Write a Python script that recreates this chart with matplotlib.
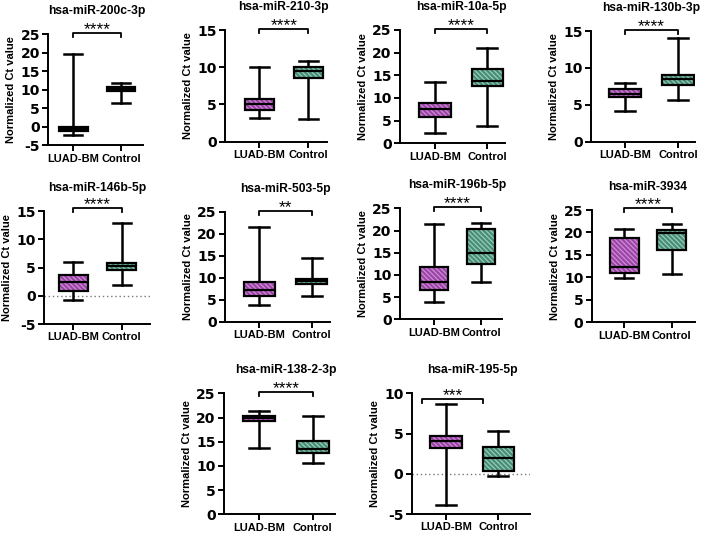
import matplotlib
matplotlib.use('Agg')
import matplotlib.pyplot as plt
from matplotlib.patches import PathPatch
from matplotlib.collections import LineCollection
from matplotlib.transforms import blended_transform_factory
import numpy as np

plt.rcParams['font.family'] = ['Liberation Sans', 'DejaVu Sans']

titles = ["hsa-miR-200c-3p", "hsa-miR-210-3p", "hsa-miR-10a-5p", "hsa-miR-130b-3p",
          "hsa-miR-146b-5p", "hsa-miR-503-5p", "hsa-miR-196b-5p", "hsa-miR-3934",
          "hsa-miR-138-2-3p", "hsa-miR-195-5p"]
groups = ["LUAD-BM", "Control"]
significance = ["****", "****", "****", "****", "****", "**", "****", "****", "****", "***"]

# [whisker low, Q1, median, Q3, whisker high]
luad_stats = [
    [-2.2, -1.1, -0.6, -0.1, 19.7],
    [3.2, 4.3, 5.0, 5.7, 10.0],
    [2.35, 5.7, 7.6, 8.8, 13.5],
    [4.1, 6.0, 6.4, 7.1, 8.0],
    [-0.7, 0.8, 2.4, 3.7, 5.9],
    [3.9, 5.9, 7.2, 9.1, 21.5],
    [3.9, 6.5, 8.3, 11.7, 21.4],
    [9.9, 11.05, 12.4, 18.7, 20.8],
    [13.6, 19.3, 19.8, 20.3, 21.4],
    [-3.9, 3.15, 4.1, 4.7, 8.7],
]
control_stats = [
    [6.3, 9.6, 10.2, 10.8, 11.7],
    [3.0, 8.6, 9.5, 10.0, 10.8],
    [3.75, 12.6, 13.8, 16.5, 21.1],
    [5.65, 7.7, 8.45, 9.1, 14.0],
    [1.95, 4.5, 5.3, 5.75, 12.8],
    [5.9, 8.6, 9.2, 9.7, 14.5],
    [8.3, 12.4, 14.9, 20.3, 21.8],
    [10.7, 16.1, 19.8, 20.5, 21.9],
    [10.5, 12.7, 13.4, 15.2, 20.4],
    [-0.3, 0.35, 1.9, 3.3, 5.3],
]
y_limits = [(-5, 25), (0, 15), (0, 25), (0, 15), (-5, 15),
            (0, 25), (0, 25), (0, 25), (0, 25), (-5, 10)]
zero_line = [False, False, False, False, True, False, False, False, False, True]
bracket_span = [(1, 2)] * 9 + [(0.55, 1.7)]

# layout in pixels: left, right, top, bottom, box1 x, box2 x
layout = [
    (48.3, 143.3, 34, 145.3, 73.3, 121),
    (225, 326.7, 30, 141.7, 259.3, 308.3),
    (400, 505, 30, 143.3, 435, 487.3),
    (591, 695, 31, 141.7, 625, 678.3),
    (44.3, 150, 211, 324, 73.3, 121.7),
    (225, 330, 211.7, 321.7, 259.3, 311.7),
    (400, 501.7, 208.3, 319.3, 434, 481),
    (591.7, 695, 210, 322.3, 624.3, 671.7),
    (224, 335, 393.3, 514.3, 259.3, 312.7),
    (411.7, 530, 393.3, 514, 446, 498.3),
]
bracket_offset_px = [1, 1, 1, 1, 3, 1, 1, 2, 1, -6]

fill_colors = ["#9A45A6", "#468C76"]
hatch_colors = ["#CF8BD5", "#98CDB8"]
BOX_W = 0.6
HATCH_SPACING = 3.4  # px

W, H = 708, 533
fig = plt.figure(figsize=(W / 100, H / 100), dpi=100)

for i in range(10):
    l, r, t, b, b1, b2 = layout[i]
    ax = fig.add_axes([l / W, 1 - b / H, (r - l) / W, (b - t) / H])
    s = b2 - b1
    ax.set_xlim(1 + (l - b1) / s, 1 + (r - b1) / s)
    ylo, yhi = y_limits[i]
    ax.set_ylim(ylo, yhi)
    hpx = b - t
    ypp = (yhi - ylo) / hpx  # data units per pixel (y)

    stats = []
    for st, lab in zip([luad_stats[i], control_stats[i]], groups):
        stats.append(dict(whislo=st[0], q1=st[1], med=st[2], q3=st[3],
                          whishi=st[4], fliers=[], label=lab))
    res = ax.bxp(stats, positions=[1, 2], widths=BOX_W, patch_artist=True,
                 showfliers=False, capwidths=0.38,
                 whiskerprops=dict(color='black', lw=1.8),
                 capprops=dict(color='black', lw=1.8),
                 medianprops=dict(color='black', lw=1.6, zorder=5))
    for k, box in enumerate(res['boxes']):
        box.set_facecolor(fill_colors[k])
        box.set_edgecolor('none')
        box.set_linewidth(0)
        box.set_zorder(3)
        # manual diagonal hatch lines (top-left to bottom-right)
        st = stats[k]
        x0 = (k + 1) - BOX_W / 2
        bw_px = BOX_W * s
        bh_px = (st['q3'] - st['q1']) / ypp
        L = bw_px + bh_px + 10
        segs = []
        step = HATCH_SPACING * np.sqrt(2)
        for c in np.arange(-5, bw_px + bh_px + 5, step):
            xa, ya = c - L, L
            xb, yb_ = c + L, -L
            segs.append([(x0 + xa / s, st['q1'] + ya * ypp),
                         (x0 + xb / s, st['q1'] + yb_ * ypp)])
        lc = LineCollection(segs, colors=hatch_colors[k], linewidths=0.9, zorder=3.5)
        ax.add_collection(lc)
        lc.set_clip_path(box)
        outline = PathPatch(box.get_path(), facecolor='none', edgecolor='black',
                            lw=1.6, zorder=4)
        ax.add_patch(outline)

    if zero_line[i]:
        ax.axhline(0, color='#777777', ls=(0, (1, 2)), lw=1.0, zorder=1)

    ax.spines['top'].set_visible(False)
    ax.spines['right'].set_visible(False)
    for sp in ['left', 'bottom']:
        ax.spines[sp].set_linewidth(1.4)
    ax.set_yticks(np.arange(ylo, yhi + 0.1, 5))
    ax.set_yticklabels([f"{int(v)}" for v in np.arange(ylo, yhi + 0.1, 5)],
                       fontsize=10, fontweight='bold', family='DejaVu Sans')
    ax.set_xticks([1, 2])
    ax.set_xticklabels(groups, fontsize=8, fontweight='bold')
    ax.tick_params(direction='out', length=4, width=1.4, pad=2)
    ax.set_ylabel("Normalized Ct value", fontsize=8, fontweight='bold', labelpad=3)

    tr = blended_transform_factory(ax.transData, ax.transAxes)
    yb = 1 + bracket_offset_px[i] / hpx
    tick = 4 / hpx
    xa0, xa1 = bracket_span[i]
    ax.plot([xa0, xa0, xa1, xa1], [yb - tick, yb, yb, yb - tick], color='black',
            lw=1.3, transform=tr, clip_on=False)
    ax.text((xa0 + xa1) / 2, yb - 1 / hpx, significance[i], transform=tr, ha='center',
            va='baseline', fontsize=12.5)
    ax.text(1.5, 1 + 23 / hpx, titles[i], transform=tr, ha='center', va='center',
            fontsize=8.7, fontweight='bold')

fig.savefig('out.png', dpi=100, facecolor='white')
